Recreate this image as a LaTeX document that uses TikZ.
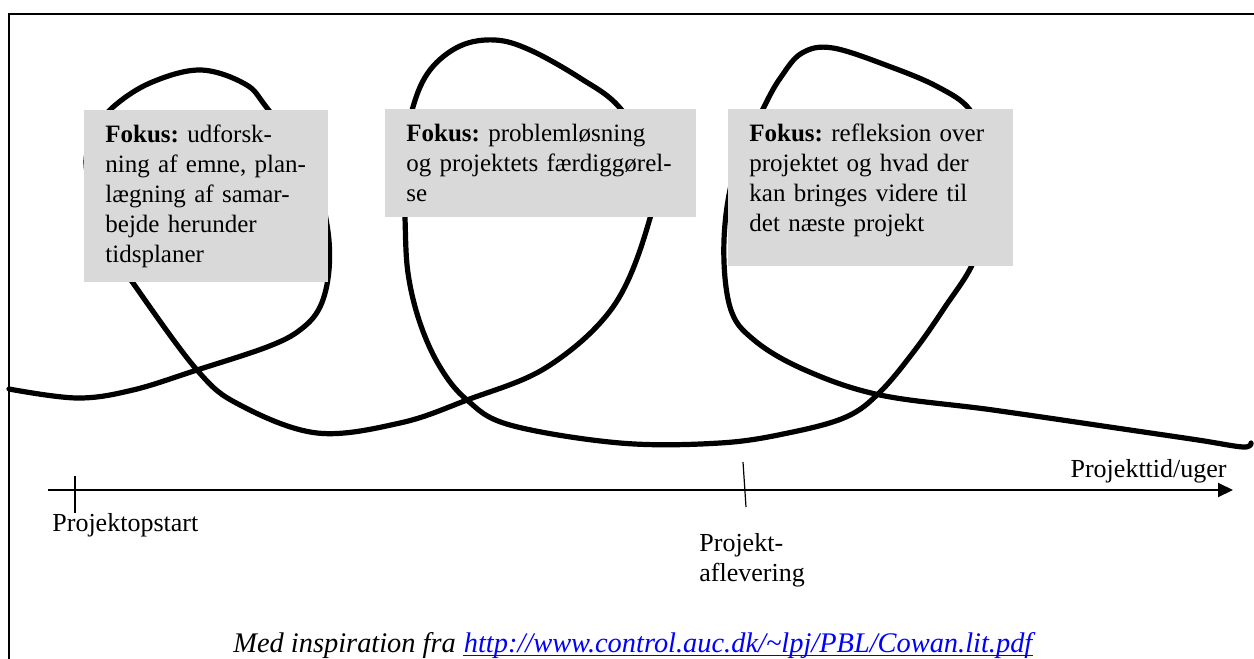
\documentclass[tikz,border=0pt]{standalone}
\usepackage{fontspec}
\setmainfont{Liberation Serif}
\usetikzlibrary{arrows.meta}
\definecolor{fokusgray}{RGB}{217,217,217}
\definecolor{linkblue}{RGB}{0,0,255}
\tikzset{
  fokus/.style={fill=fokusgray, anchor=north west, align=left, inner xsep=10.5pt,
    inner ysep=6pt, text height=10pt, font=\fontsize{12.5}{15}\selectfont\frenchspacing},
  loopline/.style={line width=2.6pt, line cap=round, line join=round},
  tickline/.style={line width=0.6pt},
  axislabel/.style={font=\fontsize{13}{15}\selectfont, inner sep=0pt},
  kildetekst/.style={inner sep=0pt, anchor=base west, font=\fontsize{14.2}{16}\selectfont\itshape},
}
\begin{document}
\begin{tikzpicture}[x=0.5pt, y=-0.5pt]
  \useasboundingbox (0,0) rectangle (1254,659);
  % ramme
  \draw[line width=0.9pt] (9,659) -- (9,14) -- (1254,14);

  % kurven med de tre sløjfer
  \draw[loopline] plot[smooth, tension=0.6] coordinates {
    (9,389) (77,398) (133,390) (197,370) (267,347) (300,330) (320,307)
    (329,270) (327,225) (312,170) (267,108) (245,84) (200,70) (150,83)
    (112,108) (95,133) (86,162) (95,205) (112,250) (133,283)
    (197,370) (240,405) (317,433) (400,423) (467,400) (547,367)
    (613,307) (648,225) (655,165) (620,108) (580,78) (530,50) (495,40)
    (460,46) (430,70) (413,107)
    (404,160) (405,218) (408,273) (420,323) (440,367) (467,400) (510,425)
    (620,443) (720,443) (788,433) (846,417) (880,392) (915,350) (945,307)
    (973,263) (986,215) (985,150) (970,110) (938,87) (891,67) (833,48) (802,53)
    (781,77) (764,107)
    (735,170) (724,240) (730,307) (754,340) (805,370) (880,395) (993,410)
    (1130,430) (1198,440) (1243,447) (1251,443)};

  \node[fokus, text width=101pt, text depth=64pt] (f1) at (84,110)
    {\textbf{Fokus:} udforsk-\\ning af emne, plan-\\lægning af samar-\\bejde herunder\\tidsplaner};
  \node[fokus, text width=134.5pt, text depth=32pt] (f2) at (385,109)
    {\textbf{Fokus:} problemløsning\\og projektets færdiggørel-\\se};
  \node[fokus, text width=121.5pt, text depth=56.5pt] (f3) at (728,109)
    {\textbf{Fokus:} refleksion over\\projektet og hvad der\\kan bringes videre til\\det næste projekt};

  % tidsakse
  \coordinate (a0) at (48,490);
  \coordinate (a1) at (1233,490);
  \draw[line width=1pt, -{Triangle[length=7.5pt,width=7pt]}] (a0) -- (a1);
  \draw[tickline] (75,476) -- (75,513);
  \draw[tickline] (743,462) -- (746,507);

  \node[axislabel, anchor=base west] (start) at (52,531) {Projektopstart};
  \node[axislabel, anchor=north west, align=left] (aflev) at (699,533) {Projekt-\\aflevering};
  \node[axislabel, anchor=base east] (tid) at (1227,477) {Projekttid/uger};

  % kilde
  \node[kildetekst] (kilde) at (233,652) {Med inspiration fra};
  \node[kildetekst, text=linkblue, xshift=3.6pt] (link) at (kilde.base east)
    {http://www.control.auc.dk/\textasciitilde lpj/PBL/Cowan.lit.pdf};
  \draw[linkblue, line width=0.6pt] ([yshift=-1.8pt]link.base west) -- ([yshift=-1.8pt]link.base east);
\end{tikzpicture}
\end{document}
